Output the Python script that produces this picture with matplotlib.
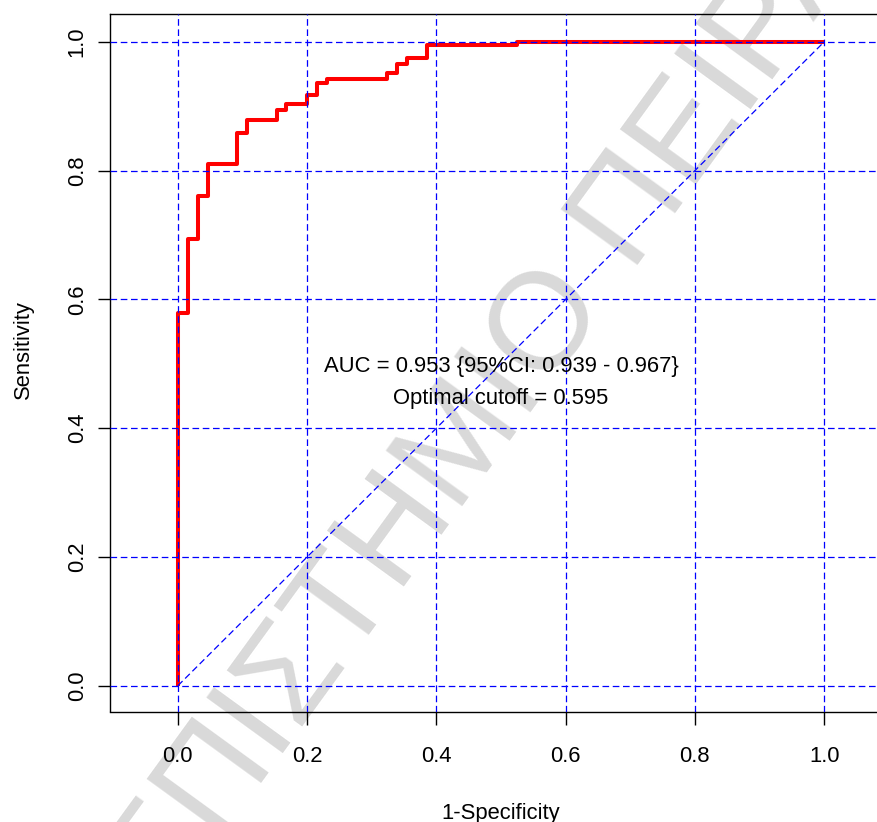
import numpy as np
import matplotlib
matplotlib.use("Agg")
import matplotlib.pyplot as plt

plt.rcParams['font.family'] = ['Liberation Sans', 'DejaVu Sans']

# ROC curve corners (false positive rate, true positive rate)
fpr = [0.0, 0.0, 0.015, 0.031, 0.046, 0.092, 0.107, 0.153, 0.168, 0.200,
       0.216, 0.231, 0.323, 0.339, 0.354, 0.385, 0.524, 1.0]
tpr = [0.0, 0.579, 0.694, 0.761, 0.811, 0.858, 0.878, 0.894, 0.903, 0.918,
       0.936, 0.943, 0.952, 0.966, 0.975, 0.995, 1.0, 1.0]
ticks = [0.0, 0.2, 0.4, 0.6, 0.8, 1.0]
auc, ci_low, ci_high = 0.953, 0.939, 0.967
cutoff = 0.595

W, H = 878, 822
fs = 15.8
fig = plt.figure(figsize=(W / 100, H / 100), dpi=100)
ax = fig.add_axes([110 / W, (H - 711.5) / H, 782 / W, 697 / H])
ax.patch.set_alpha(0)

dash = (0, (5.3, 2.9))
ax.plot(fpr, tpr, color='red', linewidth=2.9, drawstyle='steps-post',
        solid_capstyle='butt', zorder=2)
ax.plot([0, 1], [0, 1], color='blue', linewidth=0.9, linestyle=dash, zorder=3)

ax.set_xlim(-0.105, 1.105)
ax.set_ylim(-0.04, 1.0425)
ax.set_xticks(ticks)
ax.set_yticks(ticks)
ax.set_xticklabels(['%.1f' % t for t in ticks])
ax.set_yticklabels(['%.1f' % t for t in ticks], rotation=90, va='center')
ax.tick_params(direction='out', length=9, width=1, labelsize=fs)
ax.tick_params(axis='x', pad=16)
ax.tick_params(axis='y', pad=7)
ax.set_axisbelow(False)
ax.grid(True, color='blue', linewidth=0.9, linestyle=dash)
for s in ax.spines.values():
    s.set_linewidth(1.0)

ax.text(0.5, 0.488, 'AUC = %.3f {95%%CI: %.3f - %.3f}' % (auc, ci_low, ci_high),
        ha='center', va='baseline', fontsize=fs, zorder=4)
ax.text(0.5, 0.438, 'Optimal cutoff = %.3f' % cutoff,
        ha='center', va='baseline', fontsize=fs, zorder=4)

fig.text(23 / W, 1 - 350 / H, 'Sensitivity', rotation=90, ha='center',
         va='center', fontsize=fs)
fig.text(501 / W, 3 / H, '1-Specificity', ha='center', va='baseline',
         fontsize=fs)

# faint diagonal watermark behind everything
fig.text(468 / W, 1 - 438 / H, 'ΠΑΝΕΠΙΣΤΗΜΙΟ ΠΕΙΡΑΙΩΣ', rotation=54,
         rotation_mode='anchor', ha='center', va='center', fontsize=99,
         color='#d9d9d9', zorder=-1)

fig.savefig('out.png', dpi=100)
